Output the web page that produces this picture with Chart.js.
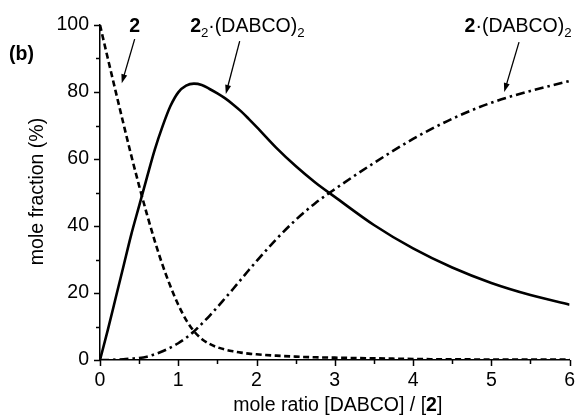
<!DOCTYPE html>
<html>
<head>
<meta charset="utf-8">
<script src="https://cdn.jsdelivr.net/npm/chart.js@4.4.1/dist/chart.umd.min.js"></script>
<style>
  html, body { margin: 0; padding: 0; background: #fff; }
  #wrap { width: 584px; height: 418px; }
</style>
</head>
<body>
<div id="wrap"><canvas id="chart" width="584" height="418"></canvas></div>
<script>
/* ── Data ── */
const ratio   = [0, 0.1, 0.2, 0.3, 0.4, 0.5, 0.6, 0.7, 0.8, 0.9, 1.0, 1.1, 1.2, 1.3, 1.4, 1.5, 1.6, 1.7, 1.8, 1.9, 2.0, 2.25, 2.5, 2.75, 3.0, 3.5, 4.0, 4.5, 5.0, 5.5, 6.0];
const free2   = [100, 90, 80.2, 70.5, 61, 52, 43.5, 35.5, 28.3, 22, 16.5, 12, 8.6, 6.3, 4.8, 3.8, 3.1, 2.6, 2.2, 1.9, 1.7, 1.3, 1.0, 0.8, 0.7, 0.5, 0.3, 0.2, 0.15, 0.1, 0.1];
const dimer   = [0, 9, 18.5, 28, 37.5, 46, 54.5, 62.8, 69.8, 75.8, 79.9, 81.9, 82.5, 82.1, 80.9, 79.6, 78.1, 76.3, 74.3, 72.0, 69.6, 63.4, 57.9, 53, 48.7, 40.3, 33.3, 27.6, 23, 19.4, 16.5];
const complex = [0, 0, 0.1, 0.2, 0.4, 0.6, 1.0, 1.7, 2.6, 3.7, 5.0, 6.6, 8.5, 10.8, 13.2, 15.8, 18.5, 21.2, 24, 26.8, 29.5, 36, 41.8, 46.8, 51, 58.8, 66, 72, 76.8, 80.3, 83.3];
const xTicks  = [0, 1, 2, 3, 4, 5, 6];
const yTicks  = [0, 20, 40, 60, 80, 100];

const FONT = "'Liberation Sans', Arial, Helvetica, sans-serif";
const pts = ys => ratio.map((x, i) => ({ x, y: ys[i] }));

/* labels with arrows, in data units */
const notes = [
  { parts: [{ t: '2', b: true }], at: [0.443, 99.4], align: 'center', from: [0.443, 95.8], to: [0.278, 82.6] },
  { parts: [{ t: '2', b: true }, { t: '2', sub: true }, { t: '\u00b7(DABCO)' }, { t: '2', sub: true }], at: [1.152, 99.4], align: 'left', from: [1.785, 95.2], to: [1.608, 79.4] },
  { parts: [{ t: '2', b: true }, { t: '\u00b7(DABCO)' }, { t: '2', sub: true }], at: [4.658, 99.4], align: 'left', from: [5.354, 94.9], to: [5.165, 80.0] }
];

function partFont(p, size) {
  return (p.b ? 'bold ' : '') + (p.sub ? size * 0.68 : size) + 'px ' + FONT;
}
function richWidth(ctx, parts, size) {
  return parts.reduce((w, p) => { ctx.font = partFont(p, size); return w + ctx.measureText(p.t).width; }, 0);
}
function drawRich(ctx, parts, x, y, size, align) {
  let cx = align === 'center' ? x - richWidth(ctx, parts, size) / 2 : x;
  ctx.textAlign = 'left';
  ctx.textBaseline = 'middle';
  parts.forEach(p => {
    ctx.font = partFont(p, size);
    ctx.fillText(p.t, cx, p.sub ? y + size * 0.3 : y);
    cx += ctx.measureText(p.t).width;
  });
}
function arrow(ctx, x1, y1, x2, y2) {
  const a = Math.atan2(y2 - y1, x2 - x1), L = 9, W = 3;
  ctx.beginPath(); ctx.moveTo(x1, y1); ctx.lineTo(x2 - L * 0.6 * Math.cos(a), y2 - L * 0.6 * Math.sin(a)); ctx.stroke();
  ctx.beginPath();
  ctx.moveTo(x2, y2);
  ctx.lineTo(x2 - L * Math.cos(a) + W * Math.sin(a), y2 - L * Math.sin(a) - W * Math.cos(a));
  ctx.lineTo(x2 - L * Math.cos(a) - W * Math.sin(a), y2 - L * Math.sin(a) + W * Math.cos(a));
  ctx.closePath(); ctx.fill();
}

/* ticks (major + minor), titles, labels */
const decor = {
  id: 'decor',
  afterDraw(chart) {
    const { ctx, chartArea: ca, scales: { x, y } } = chart;
    ctx.save();
    ctx.strokeStyle = '#000'; ctx.fillStyle = '#000'; ctx.lineWidth = 1.5;
    ctx.beginPath();
    for (let v = 0; v <= 100; v += 10) {
      const py = Math.round(y.getPixelForValue(v)) + 0.5, len = v % 20 === 0 ? 6 : 4;
      ctx.moveTo(ca.left - len, py); ctx.lineTo(ca.left, py);
    }
    for (let v = 0; v <= 6; v += 0.5) {
      const px = Math.round(x.getPixelForValue(v)) + 0.5, len = v % 1 === 0 ? 6 : 4;
      ctx.moveTo(px, ca.bottom); ctx.lineTo(px, ca.bottom + len);
    }
    ctx.stroke();

    const size = 19.5;
    // y title
    ctx.save();
    ctx.translate(38, (ca.top + ca.bottom) / 2 - 1);
    ctx.rotate(-Math.PI / 2);
    drawRich(ctx, [{ t: 'mole fraction (%)' }], 0, 0, size, 'center');
    ctx.restore();
    // x title
    drawRich(ctx, [{ t: 'mole ratio [DABCO] / [' }, { t: '2', b: true }, { t: ']' }], (ca.left + ca.right) / 2 + 3, 406, size, 'center');
    // panel tag
    drawRich(ctx, [{ t: '(b)', b: true }], 9, 55, size, 'left');
    // species labels with arrows
    ctx.lineWidth = 1.3;
    notes.forEach(n => {
      drawRich(ctx, n.parts, x.getPixelForValue(n.at[0]), y.getPixelForValue(n.at[1]), size, n.align);
      arrow(ctx, x.getPixelForValue(n.from[0]), y.getPixelForValue(n.from[1]),
                 x.getPixelForValue(n.to[0]), y.getPixelForValue(n.to[1]));
    });
    ctx.restore();
  }
};

const line = (data, dash) => ({
  data: pts(data), borderColor: '#000', borderWidth: 2.6, borderDash: dash,
  pointRadius: 0, cubicInterpolationMode: 'monotone', fill: false
});

new Chart(document.getElementById('chart'), {
  type: 'line',
  data: {
    datasets: [
      line(free2, [6, 3.5]),
      line(dimer, []),
      line(complex, [9, 4, 2.5, 4])
    ]
  },
  options: {
    responsive: false,
    animation: false,
    layout: { padding: { top: 25, right: 10, left: 0, bottom: 0 } },
    plugins: { legend: { display: false }, tooltip: { enabled: false } },
    scales: {
      x: {
        type: 'linear', min: 0, max: 6,
        afterBuildTicks: s => { s.ticks = xTicks.map(v => ({ value: v })); },
        afterFit: s => { s.height = 58; },
        grid: { display: false, drawTicks: false },
        border: { display: true, color: '#000', width: 1.5 },
        ticks: { color: '#000', padding: 9, maxRotation: 0, font: { family: FONT, size: 19.5 } }
      },
      y: {
        min: 0, max: 100,
        afterBuildTicks: s => { s.ticks = yTicks.map(v => ({ value: v })); },
        afterFit: s => { s.width = 100; },
        grid: { display: false, drawTicks: false },
        border: { display: true, color: '#000', width: 1.5 },
        ticks: { color: '#000', padding: 11, font: { family: FONT, size: 19.5 } }
      }
    }
  },
  plugins: [decor]
});
</script>
</body>
</html>
